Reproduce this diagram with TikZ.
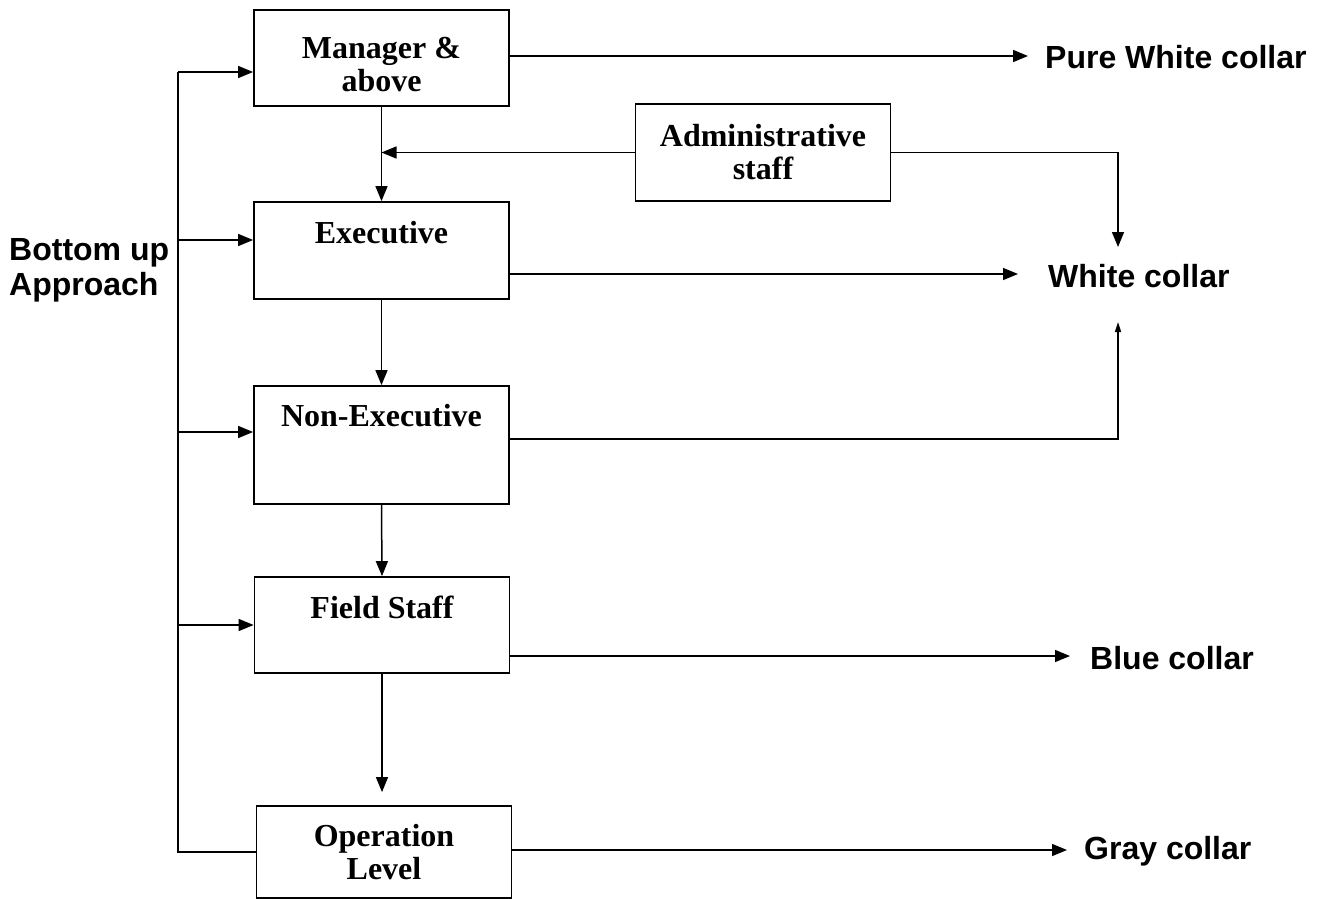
\documentclass[tikz,border=0pt]{standalone}
\usepackage{fontspec}
\setmainfont{Liberation Serif}
\newfontfamily\labelfont{Liberation Sans}
\usetikzlibrary{arrows.meta}
\begin{document}
\begin{tikzpicture}[x=1pt,y=-1pt,
  box/.style={draw=black,line width=1.8pt,minimum width=255pt,inner sep=0pt},
  btext/.style={font=\fontsize{32}{33}\selectfont\bfseries,align=center,inner sep=0pt},
  side/.style={font=\labelfont\bfseries\fontsize{32}{35}\selectfont,inner sep=0pt},
  conn/.style={line width=1.5pt},
  arr/.style={conn,-{Triangle[length=15pt,width=12pt]}},
  thinarr/.style={conn,-{Triangle[length=10pt,width=6pt]}}]
\useasboundingbox (0,0) rectangle (1322,899);

% level boxes
\node[box,minimum height=96pt] (mgr) at (381.5,58) {};
\node[box,minimum height=97pt] (exe) at (381.5,250.5) {};
\node[box,minimum height=118pt] (nex) at (381.5,445) {};
\node[box,minimum height=96pt] (fs) at (382,625) {};
\node[box,minimum height=92pt] (op) at (384,852) {};
\node[box,minimum height=97pt] (adm) at (763,152.5) {};

% box captions
\node[btext] (mgrt) at (381.5,65) {Manager \&\\above};
\node[btext] (exet) at (381.5,233) {Executive};
\node[btext] (next) at (381.5,416) {Non-Executive};
\node[btext] (fst) at (382,607) {Field Staff};
\node[btext] (opt) at (384,852) {Operation\\Level};
\node[btext] (admt) at (763,152) {Administrative\\staff};

% collar categories
\node[side,anchor=west] (pwc) at (1045,57) {Pure White collar};
\node[side,anchor=west] (wc) at (1048,276) {White collar};
\node[side,anchor=west] (bc) at (1090,658) {Blue collar};
\node[side,anchor=west] (gc) at (1084,851) {Gray collar};
\node[side,anchor=west,align=left] (bua) at (9,270) {Bottom up\\Approach};

% bottom-up bus on the left
\coordinate (bTop) at (178,72);
\coordinate (bExe) at (178,240);
\coordinate (bNex) at (178,432);
\coordinate (bFs) at (178,625);
\coordinate (bBot) at (178,852);
\draw[conn] (op.west |- bBot) -- (bBot) -- (bTop);
\draw[arr] (bTop) -- (mgr.west |- bTop);
\draw[arr] (bExe) -- (exe.west |- bExe);
\draw[arr] (bNex) -- (nex.west |- bNex);
\draw[arr] (bFs) -- (fs.west |- bFs);

% hierarchy arrows
\draw[arr] (mgr.south) -- (exe.north);
\draw[arr] (adm.west) -- (adm.west -| mgr.south);
\draw[arr] (exe.south) -- (nex.north);
\draw[arr] (nex.south) -- (fs.north);
\draw[arr,shorten >=13pt] (fs.south) -- (fs.south |- op.north);

% links to collar categories
\coordinate (pwTip) at (1028,56);
\coordinate (wcTip) at (1018,274);
\coordinate (wcIn) at (1118,247);
\coordinate (wcUp) at (1118,322);
\coordinate (nexOut) at (509,439);
\coordinate (bcTip) at (1070,656);
\coordinate (gcTip) at (1067,850);
\draw[arr] (mgr.east |- pwTip) -- (pwTip);
\draw[arr] (exe.east |- wcTip) -- (wcTip);
\draw[arr] (adm.east) -| (wcIn);
\draw[thinarr] (nex.east |- nexOut) -| (wcUp);
\draw[arr] (fs.east |- bcTip) -- (bcTip);
\draw[arr] (op.east |- gcTip) -- (gcTip);
\end{tikzpicture}
\end{document}
